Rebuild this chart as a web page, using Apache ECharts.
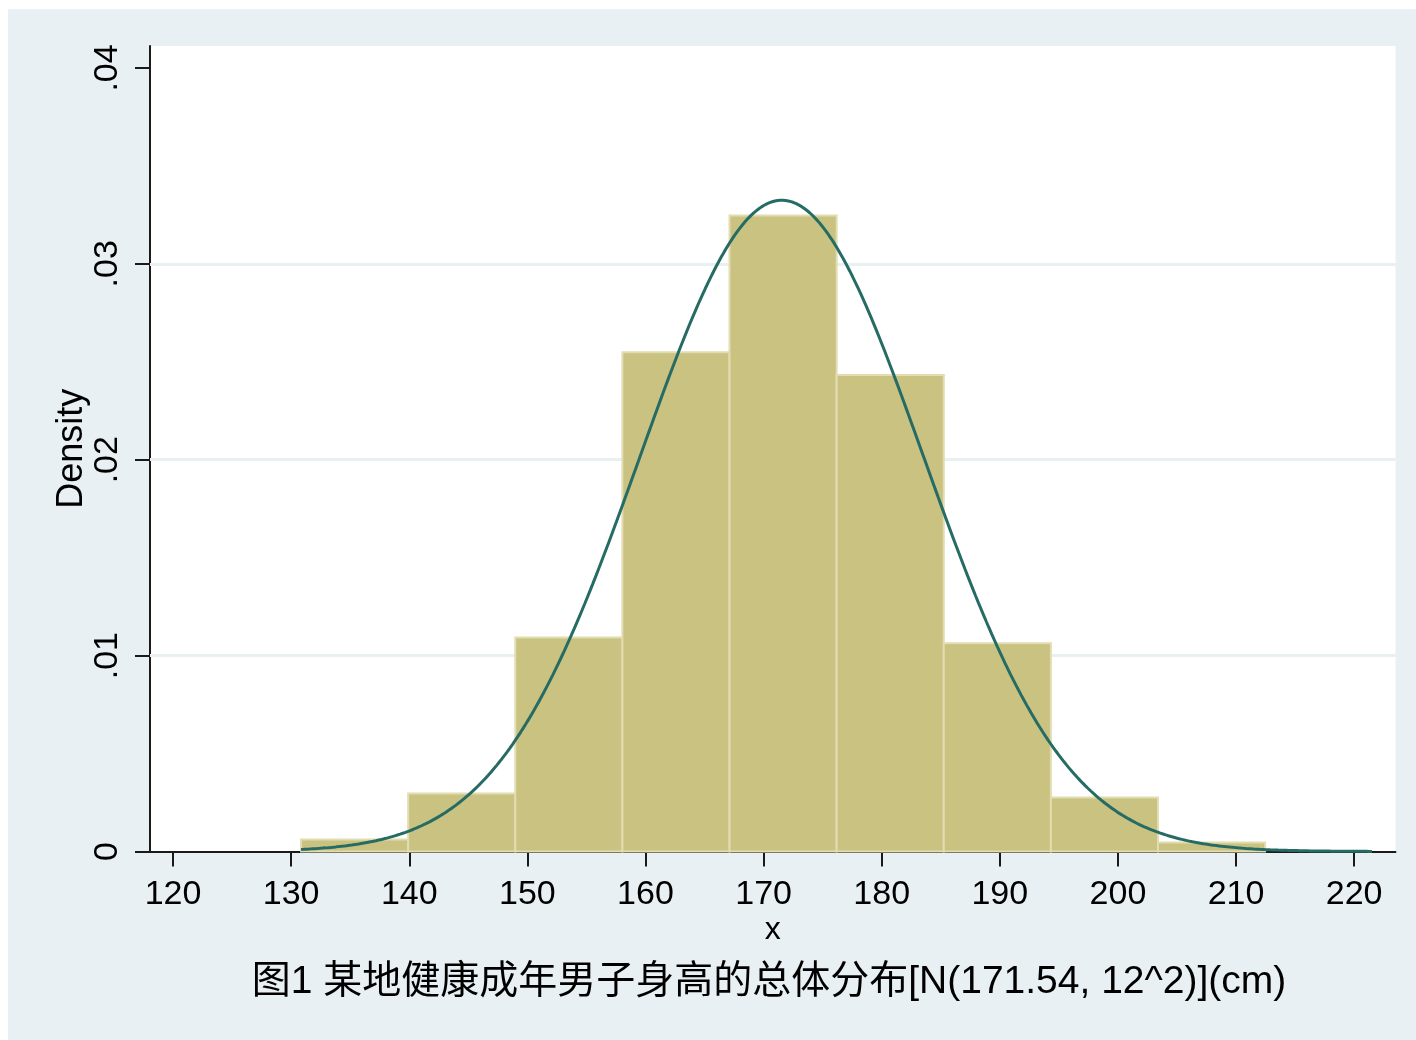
<!DOCTYPE html>
<html>
<head>
<meta charset="utf-8">
<title>身高总体分布</title>
<script src="https://cdn.jsdelivr.net/npm/echarts@6/dist/echarts.min.js"></script>
<style>
  html, body { margin: 0; padding: 0; background: #ffffff; }
  #chart { position: absolute; left: 8px; top: 9px; width: 1408px; height: 1031px; }
</style>
</head>
<body>
<div id="chart"></div>
<script>
// Histogram bins: left edge of the first bin and common bin width (cm)
const binStart = 130.84;
const binWidth = 9.069;
// Density of each bin
const binDensity = [0.00061, 0.00296, 0.01093, 0.02548, 0.03247, 0.02433, 0.01063, 0.00276, 0.00046];

// Overlaid normal curve N(171.54, 12^2), drawn across this range
const normalMean = 171.54;
const normalSd = 12;
const curveRange = [130.84, 221.5];

// Axis ticks
const xTicks = [120, 130, 140, 150, 160, 170, 180, 190, 200, 210, 220];
const yTicks = [0, 0.01, 0.02, 0.03, 0.04];
const yGrid = [0.01, 0.02, 0.03];

const caption = '图1 某地健康成年男子身高的总体分布[N(171.54, 12^2)](cm)';

const bars = binDensity.map((d, i) => [binStart + i * binWidth, binStart + (i + 1) * binWidth, d]);

function normalPdf(x) {
  const z = (x - normalMean) / normalSd;
  return Math.exp(-0.5 * z * z) / (normalSd * Math.sqrt(2 * Math.PI));
}
const curve = [];
for (let k = 0; k <= 400; k++) {
  const x = curveRange[0] + (curveRange[1] - curveRange[0]) * k / 400;
  curve.push([x, normalPdf(x)]);
}

const FONT = '"Liberation Sans", Arial, "Noto Sans CJK SC", sans-serif';

const chart = echarts.init(document.getElementById('chart'), null, { renderer: 'canvas' });
chart.setOption({
  backgroundColor: '#e9f0f3',
  animation: false,
  textStyle: { fontFamily: FONT },
  grid: {
    show: true,
    left: 142, top: 37, right: 20.5, bottom: 188.5,
    backgroundColor: '#ffffff',
    borderWidth: 0
  },
  xAxis: {
    type: 'value',
    min: 118.05, max: 223.5,
    name: 'x',
    nameLocation: 'middle',
    nameGap: 63,
    nameMoveOverlap: false,
    nameTextStyle: { fontSize: 32, color: '#000', fontFamily: FONT },
    axisLine: { show: true, onZero: false, lineStyle: { color: '#1a1a1a', width: 2 } },
    axisTick: { show: true, customValues: xTicks, length: 15, lineStyle: { color: '#1a1a1a', width: 2 } },
    axisLabel: { customValues: xTicks, fontSize: 34, color: '#000', margin: 26, fontFamily: FONT },
    splitLine: { show: false }
  },
  yAxis: {
    type: 'value',
    min: 0, max: 0.04112,
    name: 'Density',
    nameLocation: 'middle',
    nameGap: 60,
    nameMoveOverlap: false,
    nameRotate: 90,
    nameTextStyle: { fontSize: 36, color: '#000', fontFamily: FONT },
    axisLine: { show: true, onZero: false, lineStyle: { color: '#1a1a1a', width: 2 } },
    axisTick: { show: true, customValues: yTicks, length: 15, lineStyle: { color: '#1a1a1a', width: 2 } },
    axisLabel: {
      customValues: yTicks, fontSize: 34, color: '#000', margin: 25, rotate: 90,
      fontFamily: FONT,
      formatter: v => (v === 0 ? '0' : String(+v.toFixed(2)).replace(/^0\./, '.'))
    },
    splitLine: { show: false }
  },
  series: [
    {
      type: 'custom',
      name: 'bins',
      z: 2,
      encode: { x: [0, 1], y: 2 },
      data: bars,
      renderItem: function (params, api) {
        const p0 = api.coord([api.value(0), api.value(2)]);
        const p1 = api.coord([api.value(1), 0]);
        return {
          type: 'rect',
          shape: { x: p0[0], y: p0[1], width: p1[0] - p0[0], height: p1[1] - p0[1] },
          style: { fill: '#c9c281', stroke: '#e2dcb0', lineWidth: 2 }
        };
      },
      markLine: {
        silent: true,
        symbol: 'none',
        z: 1,
        label: { show: false },
        lineStyle: { color: '#e8f0f2', width: 3, type: 'solid' },
        data: yGrid.map(v => ({ yAxis: v }))
      }
    },
    {
      type: 'line',
      name: 'normal',
      z: 3,
      data: curve,
      showSymbol: false,
      smooth: false,
      lineStyle: { color: '#266b64', width: 3 }
    }
  ],
  graphic: [
    {
      type: 'text',
      x: 761,
      y: 973,
      style: {
        text: caption,
        fontSize: 39,
        fontFamily: FONT,
        fill: '#000',
        align: 'center',
        verticalAlign: 'middle'
      }
    }
  ]
});
</script>
</body>
</html>
